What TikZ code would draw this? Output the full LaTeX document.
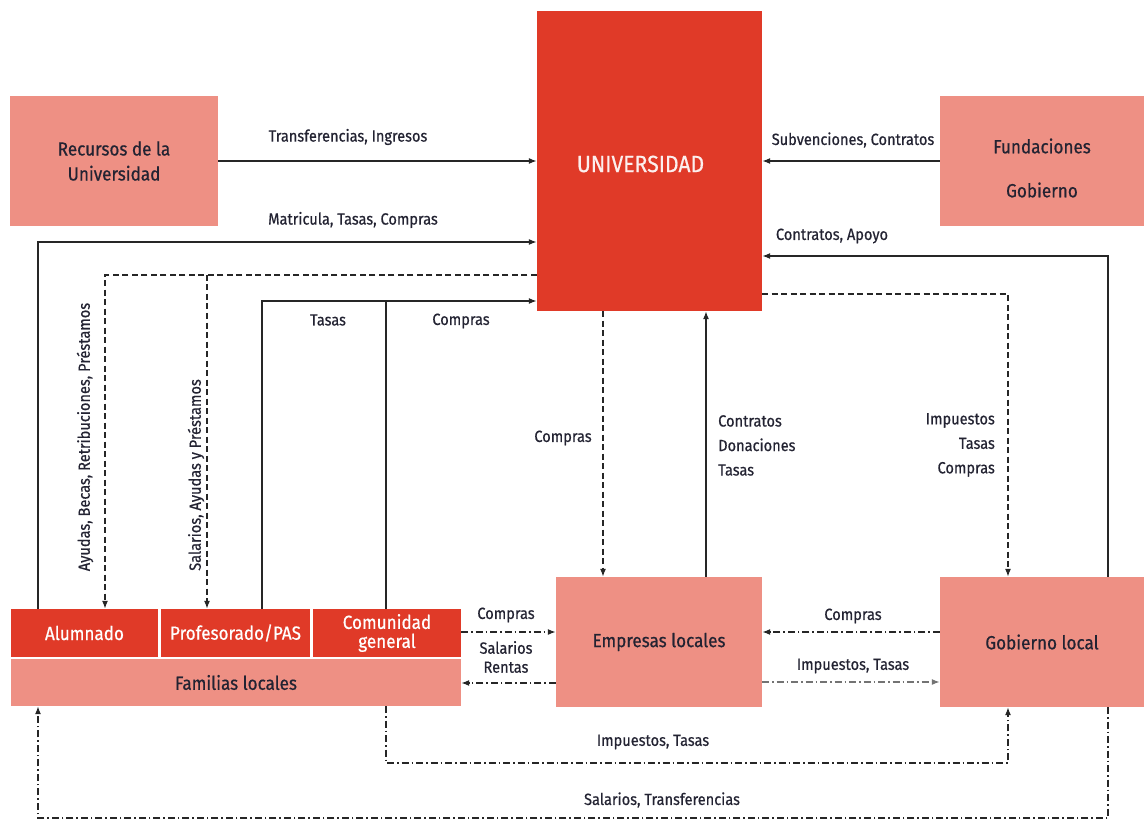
\documentclass[tikz,border=0pt]{standalone}
\usepackage{fontspec}
\setmainfont[FakeStretch=0.9,FakeBold=0.6]{Fira Sans}
\usetikzlibrary{arrows.meta,calc}
\definecolor{ured}{RGB}{224,58,40}
\definecolor{usalmon}{RGB}{238,144,132}
\definecolor{utext}{RGB}{35,35,50}
\begin{document}
\begin{tikzpicture}[x=1pt,y=-1pt,
  box/.style={fill=usalmon, draw=none, inner sep=0pt, text=utext, align=center, font=\fontsize{19}{25}\selectfont},
  rbox/.style={fill=ured, draw=none, inner sep=0pt, text=white, align=center, font=\fontsize{19}{19}\selectfont},
  lab/.style={text=utext, font=\fontsize{16.2}{24.5}\selectfont, inner sep=0pt},
  conn/.style={line width=1.3pt, draw=black!85},
  arr/.style={conn, -{Latex[length=8pt,width=6pt]}},
  darr/.style={arr, dash pattern=on 6pt off 3.5pt},
  dnarr/.style={arr, dash pattern=on 7pt off 3pt on 1.5pt off 3pt},
  dline/.style={conn, dash pattern=on 6pt off 3.5pt}]
\useasboundingbox (0,0) rectangle (1144,821);
% boxes
\node[box, minimum width=208pt, minimum height=130pt] (rec) at (114,161) {Recursos de la\\Universidad};
\node[rbox, minimum width=225pt, minimum height=300pt] (univ) at (649.5,161) {};
\node[text=white!92!ured, font=\fontsize{23.5}{24}\selectfont] (univlab) at (640.5,164) {UNIVERSIDAD};
\node[box, minimum width=204pt, minimum height=130pt] (fund) at (1042,161) {};
\node[text=utext, font=\fontsize{19}{20}\selectfont] (fund1) at (1042,146) {Fundaciones};
\node[text=utext, font=\fontsize{19}{20}\selectfont] (fund2) at (1042,190) {Gobierno};
\node[rbox, minimum width=147pt, minimum height=48pt] (alum) at (84.5,633) {Alumnado};
\node[rbox, minimum width=149pt, minimum height=48pt] (prof) at (235.5,633) {Profesorado/PAS};
\node[rbox, minimum width=148pt, minimum height=48pt] (com) at (387,633) {Comunidad\\general};
\node[box, minimum width=450pt, minimum height=47pt] (fam) at (236,682.5) {Familias locales};
\node[box, minimum width=206pt, minimum height=130pt] (emp) at (659,642) {Empresas locales};
\node[box, minimum width=204pt, minimum height=130pt] (gob) at (1042,642) {Gobierno local};
% connectors
\draw[arr] (rec) -- (univ);
\draw[arr] (fund) -- (univ);
\draw[arr] (alum.north -| 38,0) |- (univ.west |- 0,242);
\coordinate (jd) at (207,275);
\draw[darr] (univ.west |- 0,275) -| (alum.north -| 105,0);
\draw[darr] (jd) -- (prof.north -| jd);
\coordinate (js) at (386,301);
\draw[arr] (prof.north -| 262,0) |- (univ.west |- 0,301);
\draw[conn] (com.north -| js) -- (js);
\draw[darr] (univ.south -| 603,0) -- (emp.north -| 603,0);
\draw[arr] (emp.north -| 706,0) -- (univ.south -| 706,0);
\draw[arr] (gob.north -| 1108,0) |- (univ.east |- 0,256);
\draw[darr] (univ.east |- 0,294) -| (gob.north -| 1008,0);
\draw[dnarr] (com.east |- 0,632) -- (emp.west |- 0,632);
\draw[dnarr] (emp.west |- 0,683) -- (fam.east |- 0,683);
\draw[dnarr] (gob.west |- 0,632) -- (emp.east |- 0,632);
\draw[dnarr, draw=black!55] (emp.east |- 0,682) -- (gob.west |- 0,682);
\coordinate (b1) at (1008,763);
\draw[dnarr] (fam.south -| 386,0) |- (b1) -- (gob.south -| b1);
\coordinate (b2) at (38,818);
\draw[dnarr] (gob.south -| 1108,0) |- (b2) -- (fam.south -| b2);
% labels
\node[lab] (l1) at (348,137) {Transferencias, Ingresos};
\node[lab] (l2) at (853,140) {Subvenciones, Contratos};
\node[lab] (l3) at (353,220) {Matricula, Tasas, Compras};
\node[lab] (l4) at (832,236) {Contratos, Apoyo};
\node[lab, rotate=90] (l5) at (85,437) {Ayudas, Becas, Retribuciones, Préstamos};
\node[lab, rotate=90] (l6) at (196,475) {Salarios, Ayudas y Préstamos};
\node[lab] (l7) at (328,320) {Tasas};
\node[lab] (l8) at (461,321) {Compras};
\node[lab] (l9) at (563,438) {Compras};
\node[lab, align=left, anchor=north west] (l10) at (718,415) {Contratos\\Donaciones\\Tasas};
\node[lab, align=right, anchor=north east] (l11) at (995,413) {Impuestos\\Tasas\\Compras};
\node[lab] (l12) at (506,615) {Compras};
\node[lab, align=center, font=\fontsize{16.2}{19}\selectfont] (l13) at (506,657) {Salarios\\Rentas};
\node[lab] (l14) at (853,616) {Compras};
\node[lab] (l15) at (853,666) {Impuestos, Tasas};
\node[lab] (l16) at (653,742) {Impuestos, Tasas};
\node[lab] (l17) at (662,800) {Salarios, Transferencias};
\end{tikzpicture}
\end{document}
